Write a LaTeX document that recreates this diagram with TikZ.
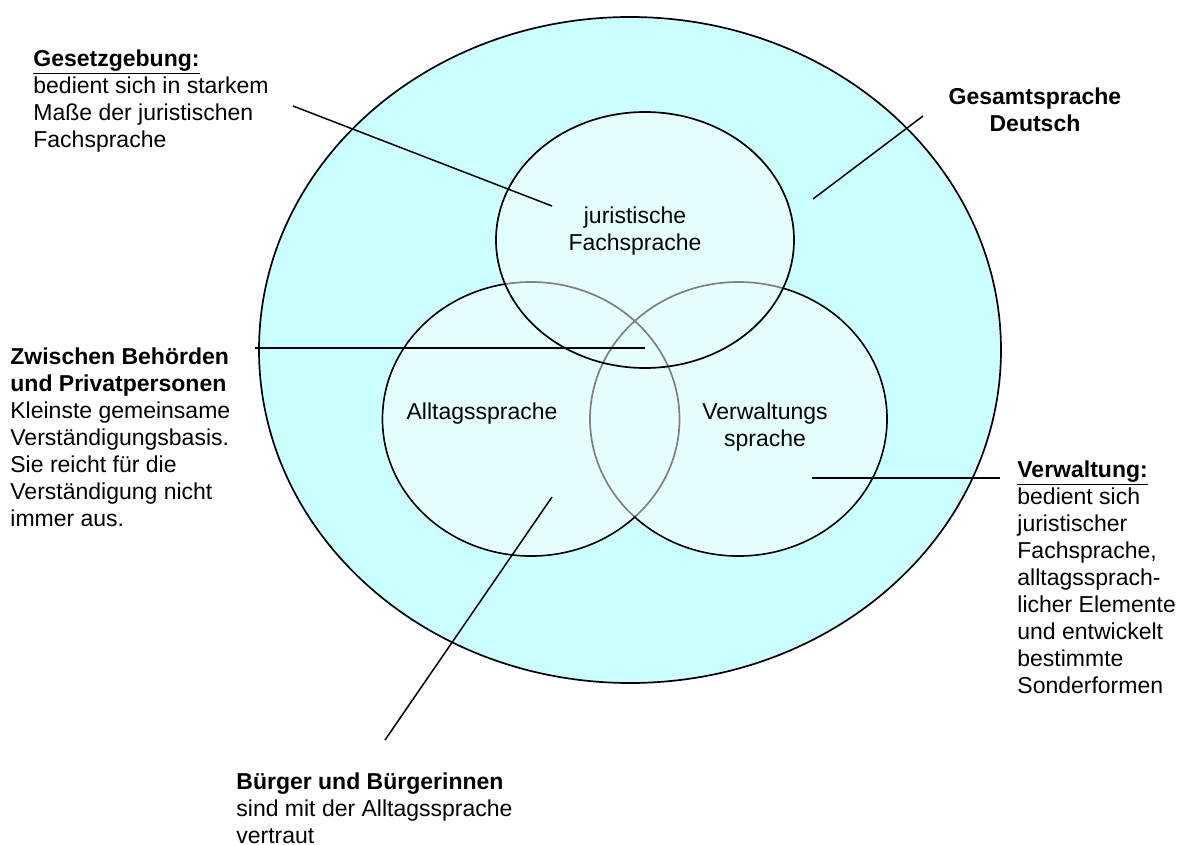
\documentclass[tikz,border=0pt]{standalone}
\usepackage{fontspec}
\setmainfont{Liberation Sans}
\definecolor{hellcyan}{HTML}{CCFFFF}
\begin{document}
\begin{tikzpicture}[x=0.5pt,y=-0.5pt]
	\tikzset{k/.style={draw=black,line width=0.85pt},
		l/.style={line width=0.75pt},
		t/.style={font=\fontsize{11.5}{13.5}\selectfont,inner sep=0pt,align=left,anchor=north west},
		m/.style={t,align=center,anchor=north}}
	\useasboundingbox (0,0) rectangle (1183,845);
	\coordinate (G) at (630,350);
	\coordinate (J) at (645,240);
	\coordinate (A) at (531,419);
	\coordinate (V) at (738.5,419);
	\draw[k,fill=hellcyan] (G) ellipse [x radius=371,y radius=333];
	\draw[k] (A) ellipse [x radius=148.5,y radius=137] (V) ellipse [x radius=148.5,y radius=137];
	\fill[white,fill opacity=0.5] (J) ellipse [x radius=148.1,y radius=127.1] (A) ellipse [x radius=147.6,y radius=136.1] (V) ellipse [x radius=147.6,y radius=136.1];
	\draw[k] (J) ellipse [x radius=149,y radius=128];
	% Texte
	\node[t] (gesetz) at (33,49) {\textbf{\underline{Gesetzgebung:}}\\bedient sich in starkem\\Maße der juristischen\\Fachsprache};
	\node[m] (gesamt) at (1035,87) {\textbf{Gesamtsprache}\\\textbf{Deutsch}};
	\node[m] (jur) at (635,206) {juristische\\Fachsprache};
	\node[t] (zwischen) at (10,347) {\textbf{Zwischen Behörden}\\\textbf{und Privatpersonen}\\Kleinste gemeinsame\\Verständigungsbasis.\\Sie reicht für die\\Verständigung nicht\\immer aus.};
	\node[m] (alltag) at (482,402) {Alltagssprache};
	\node[m] (verw) at (765,402) {Verwaltungs\\sprache};
	\node[t] (verwaltung) at (1017,460) {\textbf{\underline{Verwaltung:}}\\bedient sich\\juristischer\\Fachsprache,\\alltagssprach-\\licher Elemente\\und entwickelt\\bestimmte\\Sonderformen};
	\node[t] (buerger) at (236,772) {\textbf{Bürger und Bürgerinnen}\\sind mit der Alltagssprache\\vertraut};
	% Linien
	\coordinate (g1) at (293,106); \coordinate (g2) at (552,206);
	\coordinate (d1) at (923,116); \coordinate (d2) at (813,199);
	\coordinate (z1) at (255,348); \coordinate (z2) at (645,348);
	\coordinate (v1) at (812,478); \coordinate (v2) at (1000,478);
	\coordinate (b1) at (552,497); \coordinate (b2) at (385,740);
	\foreach \x/\y in {g1/g2,d1/d2,z1/z2,v1/v2,b1/b2}
	\draw[l](\x)--(\y);
\end{tikzpicture}
\end{document}
